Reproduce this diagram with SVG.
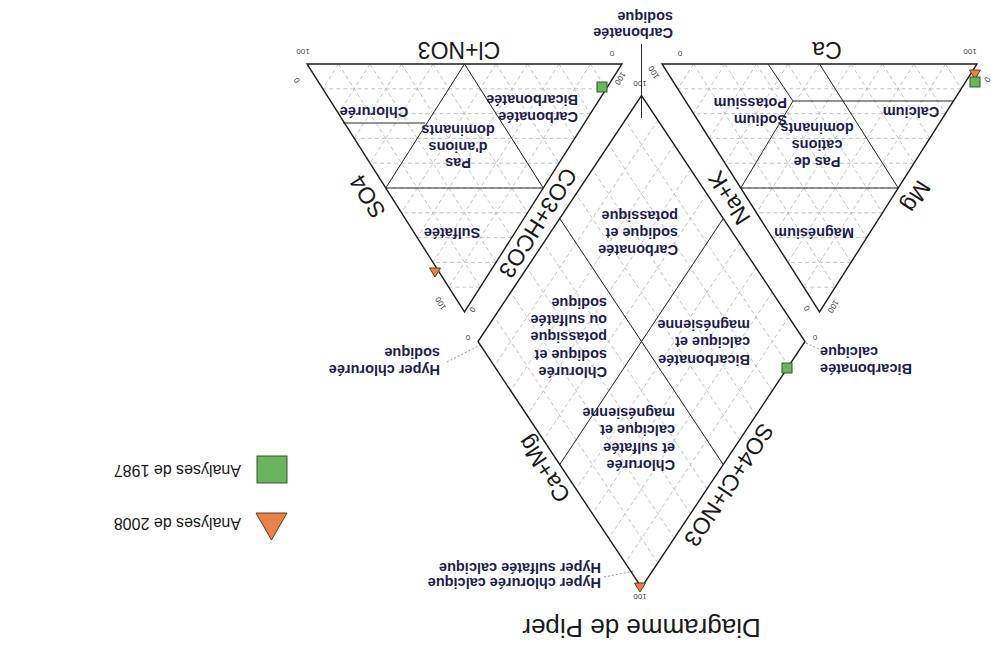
<svg xmlns="http://www.w3.org/2000/svg" width="991" height="648" viewBox="0 0 991 648">
<style>
.grid{stroke:#b4b4b4;stroke-width:0.8;stroke-dasharray:4 3;fill:none}
.frame{stroke:#1e1e1e;stroke-width:1.4;fill:none;stroke-linejoin:miter}
.cls{stroke:#2a2a2a;stroke-width:1;fill:none}
.lead{stroke:#8a8a8a;stroke-width:0.9;stroke-dasharray:2 2;fill:none}
.ax{font-family:"Liberation Sans",Arial,sans-serif;font-size:23px;fill:#1a1a1a}
.lbl{font-family:"Liberation Sans",Arial,sans-serif;font-size:14.5px;font-weight:bold;fill:#1d1d4a}
.tk{font-family:"Liberation Sans",Arial,sans-serif;font-size:8px;fill:#444}
.title{font-family:"Liberation Sans",Arial,sans-serif;font-size:26px;fill:#1a1a1a}
.leg{font-family:"Liberation Sans",Arial,sans-serif;font-size:16px;fill:#1a1a1a}
.sq{fill:#6cb35e;stroke:#2e5a2a;stroke-width:1}
.tri{fill:#e8824a;stroke:#6e3818;stroke-width:1}
</style>
<defs>
<path id="tgrid" class="grid" d="M29.75 559.2H313.25M45.5 534.4H297.5M61.25 509.6H281.75M77 484.8H266M92.75 460H250.25M108.5 435.2H234.5M124.25 410.4H218.75M140 385.6H203M155.75 360.8H187.25M45.5 584L187.25 360.8M77 584L203 385.6M108.5 584L218.75 410.4M140 584L234.5 435.2M171.5 584L250.25 460M203 584L266 484.8M234.5 584L281.75 509.6M266 584L297.5 534.4M297.5 584L313.25 559.2M45.5 584L29.75 559.2M77 584L45.5 534.4M108.5 584L61.25 509.6M140 584L77 484.8M171.5 584L92.75 460M203 584L108.5 435.2M234.5 584L124.25 410.4M266 584L140 385.6M297.5 584L155.75 360.8"/>
</defs>
<rect x="0" y="0" width="991" height="648" fill="#ffffff"/>
<g transform="rotate(180 495.5 324)">
  <g id="title"><text class="title" x="349.5" y="29" text-anchor="middle">Diagramme de Piper</text></g>

  <g id="grids">
    <use href="#tgrid"/>
    <use href="#tgrid" x="355"/>
    <path class="grid" d="M202.35 331.1L365.85 85.1M218.7 355.7L382.2 109.7M235.05 380.3L398.55 134.3M251.4 404.9L414.9 158.9M267.75 429.5L431.25 183.5M284.1 454.1L447.6 208.1M300.45 478.7L463.95 232.7M316.8 503.3L480.3 257.3M333.15 527.9L496.65 281.9M202.35 281.9L365.85 527.9M218.7 257.3L382.2 503.3M235.05 232.7L398.55 478.7M251.4 208.1L414.9 454.1M267.75 183.5L431.25 429.5M284.1 158.9L447.6 404.9M300.45 134.3L463.95 380.3M316.8 109.7L480.3 355.7M333.15 85.1L496.65 331.1"/>
  </g>

  <g id="connectors">
    <path class="cls" d="M92.75 460H250.25M171.5 584L92.75 460M250.25 460L198 547M37.5 547H198M198 547L223 584"/>
    <path class="cls" d="M447.75 460H605.25M526.5 584L447.75 460M526.5 584L605.25 460M648 525H566"/>
    <path class="cls" d="M267.75 183.5L431.25 429.5M431.25 183.5L267.75 429.5"/>
    <path class="cls" d="M349.5 530V604"/>
    <path class="lead" d="M387 71L356 77M544 286L511 303M185 305L172 299"/>
  </g>

  <g id="cation-triangle">
    <path class="frame" d="M14 584L329 584L171.5 336Z"/>
    <text class="ax" x="164" y="606" text-anchor="middle">Ca</text>
    <text class="ax" transform="translate(74.5 451.5) rotate(-57.6)" x="0" y="8" text-anchor="middle">Mg</text>
    <text class="ax" transform="translate(262 450) rotate(57.6)" x="0" y="8" text-anchor="middle">Na+K</text>
    <text class="tk" x="21" y="599" text-anchor="middle">100</text>
    <text class="tk" x="311" y="597" text-anchor="middle">0</text>
    <text class="tk" transform="translate(6 570) rotate(-57.6)" text-anchor="middle">0</text>
    <text class="tk" transform="translate(160 343) rotate(-57.6)" text-anchor="middle">100</text>
    <text class="tk" transform="translate(182 341) rotate(57.6)" text-anchor="middle">0</text>
    <text class="tk" transform="translate(335 577) rotate(57.6)" text-anchor="middle">100</text>
    <text class="lbl" x="177" y="420" text-anchor="middle">Magnésium</text>
    <text class="lbl" x="80" y="541" text-anchor="middle">Calcium</text>
    <text class="lbl" x="174" y="491" text-anchor="middle">Pas de</text>
    <text class="lbl" x="174" y="508" text-anchor="middle">cations</text>
    <text class="lbl" x="174" y="525" text-anchor="middle">dominants</text>
    <text class="lbl" x="204" y="533">Sodium</text>
    <text class="lbl" x="204" y="550">Potassium</text>
  </g>

  <g id="anion-triangle">
    <path class="frame" d="M369 584L684 584L526.5 336Z"/>
    <text class="ax" x="532" y="606" text-anchor="middle">Cl+NO3</text>
    <text class="ax" transform="translate(623.5 451.5) rotate(57.6)" x="0" y="8" text-anchor="middle">SO4</text>
    <text class="ax" transform="translate(453 425) rotate(-57.6)" x="0" y="8" text-anchor="middle">CO3+HCO3</text>
    <text class="tk" x="379" y="597" text-anchor="middle">0</text>
    <text class="tk" x="688" y="599" text-anchor="middle">100</text>
    <text class="tk" transform="translate(373 571) rotate(-57.6)" text-anchor="middle">100</text>
    <text class="tk" transform="translate(521 340) rotate(-57.6)" text-anchor="middle">0</text>
    <text class="tk" transform="translate(548 346) rotate(57.6)" text-anchor="middle">100</text>
    <text class="tk" transform="translate(692 569) rotate(57.6)" text-anchor="middle">0</text>
    <text class="lbl" x="539" y="420" text-anchor="middle">Sulfatée</text>
    <text class="lbl" x="617" y="541" text-anchor="middle">Chlorurée</text>
    <text class="lbl" x="533" y="490" text-anchor="middle">Pas</text>
    <text class="lbl" x="533" y="506" text-anchor="middle">d'anions</text>
    <text class="lbl" x="533" y="523" text-anchor="middle">dominants</text>
    <text class="lbl" x="413" y="536">Carbonatée</text>
    <text class="lbl" x="413" y="553">Bicarbonatée</text>
  </g>

  <g id="diamond">
    <path class="frame" d="M186 306.5L349.5 60.5L513 306.5L349.5 552.5Z"/>
    <text class="ax" transform="translate(262 163) rotate(-56.4)" x="0" y="8" text-anchor="middle">SO4+Cl+NO3</text>
    <text class="ax" transform="translate(447 179) rotate(56.4)" x="0" y="8" text-anchor="middle">Ca+Mg</text>
    <text class="tk" x="176" y="313" text-anchor="middle">0</text>
    <text class="tk" x="523" y="313" text-anchor="middle">0</text>
    <text class="tk" x="351" y="54" text-anchor="middle">100</text>
    <text class="tk" x="351" y="567" text-anchor="middle">100</text>
    <text class="lbl" x="316" y="188">Chlorurée</text>
    <text class="lbl" x="316" y="205">et sulfatée</text>
    <text class="lbl" x="316" y="223">calcique et</text>
    <text class="lbl" x="316" y="240">magnésienne</text>
    <text class="lbl" x="241" y="293">Bicarbonatée</text>
    <text class="lbl" x="241" y="311">calcique et</text>
    <text class="lbl" x="241" y="328">magnésienne</text>
    <text class="lbl" x="384" y="281">Chlorurée</text>
    <text class="lbl" x="384" y="298">sodique et</text>
    <text class="lbl" x="384" y="316">potassique</text>
    <text class="lbl" x="384" y="333">ou sulfatée</text>
    <text class="lbl" x="384" y="350">sodique</text>
    <text class="lbl" x="313" y="403">Carbonatée</text>
    <text class="lbl" x="313" y="420">sodique et</text>
    <text class="lbl" x="313" y="437">potassique</text>
  </g>

  <g id="outer-labels">
    <text class="lbl" x="390" y="70">Hyper chlorurée calcique</text>
    <text class="lbl" x="390" y="85">Hyper sulfatée calcique</text>
    <text class="lbl" x="551" y="283">Hyper chlorurée</text>
    <text class="lbl" x="551" y="300">sodique</text>
    <text class="lbl" x="171" y="284" text-anchor="end">Bicarbonatée</text>
    <text class="lbl" x="171" y="301" text-anchor="end">calcique</text>
    <text class="lbl" x="318" y="620">Carbonatée</text>
    <text class="lbl" x="318" y="636">sodique</text>
  </g>

  <g id="data-points">
    <polygon class="tri" points="10.5,578 21.5,578 16,569"/>
    <rect class="sq" x="11" y="561" width="10" height="10"/>
    <rect class="sq" x="384" y="556" width="10" height="10"/>
    <polygon class="tri" points="550.5,380 561.5,380 556,371"/>
    <rect class="sq" x="199" y="275" width="10" height="10"/>
    <polygon class="tri" points="345.5,65 356.5,65 351,56"/>
  </g>

  <g id="legend">
    <polygon class="tri" points="704,135 735,135 719.5,108"/>
    <text class="leg" x="750" y="130.5">Analyses de 2008</text>
    <rect class="sq" x="704" y="165" width="30" height="27"/>
    <text class="leg" x="750" y="183.5">Analyses de 1987</text>
  </g>
</g>
</svg>
